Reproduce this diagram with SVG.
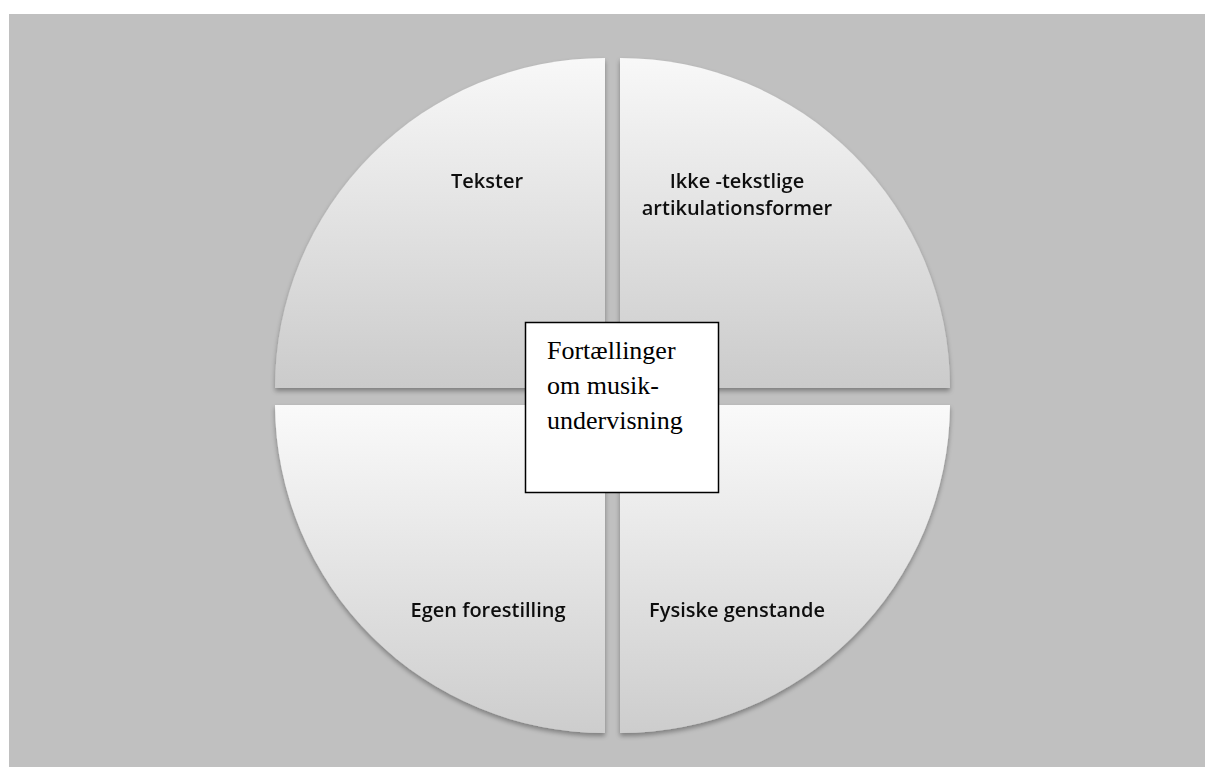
<svg xmlns="http://www.w3.org/2000/svg" width="1205" height="767" viewBox="0 0 1205 767">
  <style>
    .label { font-family: "Open Sans", "Noto Sans", sans-serif; font-weight: 600; font-size: 20px; fill: #111; text-anchor: middle; }
    .center-text { font-family: "Liberation Serif", "Times New Roman", serif; font-size: 26px; fill: #000; }
  </style>
  <defs>
    <linearGradient id="gradTop" x1="0" y1="0" x2="0" y2="1">
      <stop offset="0" stop-color="#f8f8f8"/>
      <stop offset="1" stop-color="#cbcbcb"/>
    </linearGradient>
    <linearGradient id="gradBottom" x1="0" y1="0" x2="0" y2="1">
      <stop offset="0" stop-color="#fafafa"/>
      <stop offset="1" stop-color="#cdcdcd"/>
    </linearGradient>
    <filter id="shadow" x="-10%" y="-10%" width="120%" height="125%">
      <feGaussianBlur in="SourceAlpha" stdDeviation="2.5"/>
      <feOffset dx="0" dy="3" result="b"/>
      <feComponentTransfer><feFuncA type="linear" slope="0.35"/></feComponentTransfer>
      <feMerge><feMergeNode/><feMergeNode in="SourceGraphic"/></feMerge>
    </filter>
  </defs>

  <!-- page -->
  <rect x="0" y="0" width="1205" height="767" fill="#ffffff"/>
  <rect x="9" y="14" width="1196" height="753" fill="#c0c0c0"/>

  <!-- quadrants -->
  <g id="q-tekster" filter="url(#shadow)">
    <path d="M605,388 L275,388 A330,330 0 0 1 605,58 Z" fill="url(#gradTop)"/>
    <text class="label" x="487" y="188">Tekster</text>
  </g>
  <g id="q-ikke-tekstlige" filter="url(#shadow)">
    <path d="M620,388 L620,58 A330,330 0 0 1 950,388 Z" fill="url(#gradTop)"/>
    <text class="label" x="737" y="188">Ikke -tekstlige</text>
    <text class="label" x="737" y="215">artikulationsformer</text>
  </g>
  <g id="q-egen-forestilling" filter="url(#shadow)">
    <path d="M605,405 L605,733 A330,330 0 0 1 275,405 Z" fill="url(#gradBottom)"/>
    <text class="label" x="488" y="617">Egen forestilling</text>
  </g>
  <g id="q-fysiske-genstande" filter="url(#shadow)">
    <path d="M620,405 L950,405 A330,330 0 0 1 620,733 Z" fill="url(#gradBottom)"/>
    <text class="label" x="737" y="617">Fysiske genstande</text>
  </g>

  <!-- connectors (none drawn) -->
  <g id="connectors"></g>

  <!-- central box -->
  <g id="center">
    <rect x="525.5" y="322.5" width="193" height="170" fill="#ffffff" stroke="#000" stroke-width="1.5"/>
    <text class="center-text" x="547" y="359">Fortællinger</text>
    <text class="center-text" x="547" y="394">om musik-</text>
    <text class="center-text" x="547" y="429">undervisning</text>
  </g>
</svg>
